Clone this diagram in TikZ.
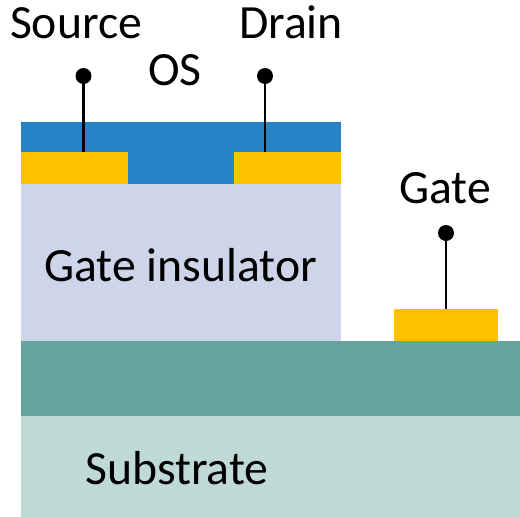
\documentclass[tikz,border=0pt]{standalone}
\usepackage{fontspec}
\setmainfont{Carlito}
\usetikzlibrary{positioning}
\definecolor{osblue}{RGB}{38,131,198}
\definecolor{contact}{RGB}{255,192,0}
\definecolor{insul}{RGB}{207,213,232}
\definecolor{gatelayer}{RGB}{100,163,159}
\definecolor{subst}{RGB}{191,217,215}
\begin{document}
\begin{tikzpicture}[
  x=1pt,y=-1pt,
  layer/.style={
    inner sep=0pt,
    outer sep=0pt,
    anchor=north west
  },
  label/.style={
    font=\fontsize{47.7}{47.7}\selectfont,
    text=black,
    inner sep=0pt,
    anchor=base
  },
  pin/.style={circle,fill=black,inner sep=0pt,minimum size=16pt},
  wire/.style={line width=2.7pt,black}
]
\useasboundingbox (0,0) rectangle (520,517);

\node[layer,fill=subst,minimum width=499pt,minimum height=101pt] (sub) at (21,416) {};
\node[layer,fill=gatelayer,minimum width=499pt,minimum height=75pt] (gl) at (21,341) {};
\node[layer,fill=insul,minimum width=320pt,minimum height=157pt] (gi) at (21,184) {};
\node[layer,fill=osblue,minimum width=320pt,minimum height=62pt] (os) at (21,122) {};
\node[layer,fill=contact,minimum width=107pt,minimum height=32pt] (src) at (21,152) {};
\node[layer,fill=contact,minimum width=107pt,minimum height=32pt] (drn) at (234,152) {};
\node[layer,fill=contact,minimum width=104pt,minimum height=32pt] (gt) at (394,309) {};

\node[pin] (psrc) at (83.5,76) {};
\node[pin] (pdrn) at (265,76) {};
\node[pin] (pgt) at (446,233) {};

\draw[wire] (psrc) -- (psrc |- src.north);
\draw[wire] (pdrn) -- (pdrn |- drn.north);
\draw[wire] (pgt) -- (pgt |- gt.north);

\node[label] (lsrc) at (76,38) {Source};
\node[label] (ldrn) at (291,38) {Drain};
\node[label] (los) at (175,85) {OS};
\node[label] (lgt) at (445,203) {Gate};
\node[label] (lgi) at (180.5,281) {Gate insulator};
\node[label] (lsub) at (177,484) {Substrate};
\end{tikzpicture}
\end{document}
